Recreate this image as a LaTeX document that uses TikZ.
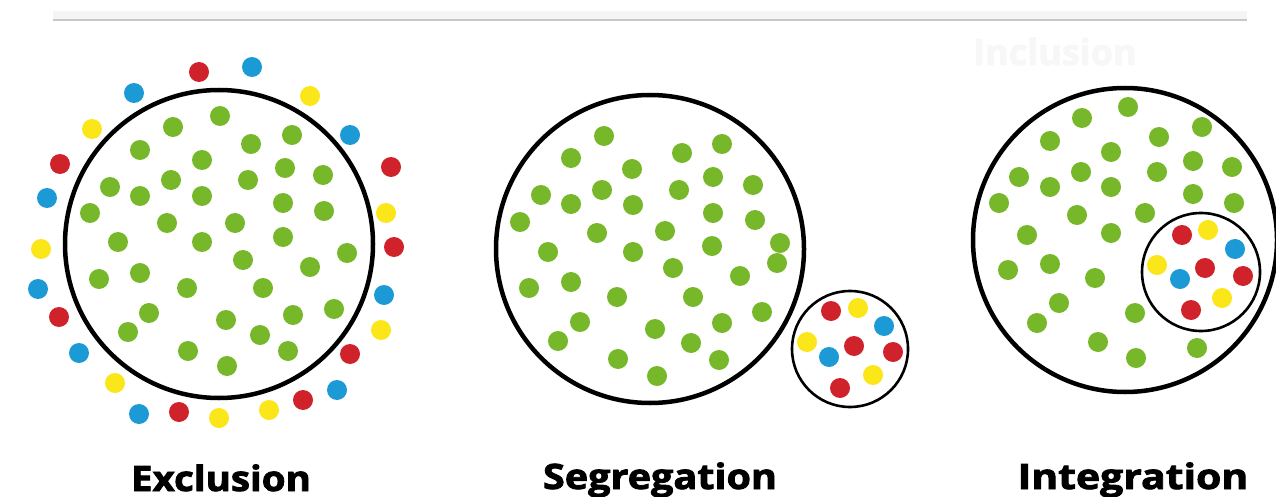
\documentclass[tikz,border=0pt]{standalone}
\usepackage{fontspec}
\setmainfont{Open Sans}
\newfontfamily\lblfont[FakeBold=2.2]{Open Sans Bold}
\begin{document}
\begin{tikzpicture}[x=1pt,y=-1pt,
  ring/.style={draw=black,line width=4.5pt},
  smallring/.style={draw=black,line width=2.6pt},
  label/.style={font=\fontsize{35}{35}\selectfont\lblfont,anchor=base,inner sep=0pt},
  gdot/.style={fill=dotgreen},
  rdot/.style={fill=dotred},
  bdot/.style={fill=dotblue},
  ydot/.style={fill=dotyellow}]
\definecolor{dotgreen}{HTML}{76B82A}
\definecolor{dotred}{HTML}{D0222A}
\definecolor{dotblue}{HTML}{1C9AD6}
\definecolor{dotyellow}{HTML}{FBE619}
\useasboundingbox (0,0) rectangle (1276,497);
\fill[white] (0,0) rectangle (1276,497);
% top rule
\fill[black!4] (53,11) rectangle (1247,19);
\draw[black!22,line width=2pt] (53,20) -- (1247,20);
% faint title
\node[font=\fontsize{36}{36}\selectfont\lblfont,text=black!3,anchor=base west,inner sep=0pt] (incl) at (973,65) {Inclusion};

% ---------- Exclusion ----------
\foreach \x/\y in {220/116,173/127,292/135,251/144,140/150,202/160,285/168,323/175,171/180,248/180,110/187,140/196,202/196,283/203,324/211,90/213,167/223,235/223,283/237,118/242,202/242,347/253,243/260,310/267,140/273,99/279,187/288,263/288,149/313,334/309,293/315,226/320,128/332,260/335,188/351,288/351,227/366}
  \fill[gdot] (\x,\y) circle (10);
\foreach \x/\y in {199/72,60/164,391/167,394/247,59/317,350/354,303/400,179/412}
  \fill[rdot] (\x,\y) circle (10);
\foreach \x/\y in {252/67,134/93,350/135,47/198,38/289,384/295,79/353,337/390,139/414}
  \fill[bdot] (\x,\y) circle (10);
\foreach \x/\y in {310/96,92/129,386/213,41/249,381/330,115/383,269/410,219/418}
  \fill[ydot] (\x,\y) circle (10);
\draw[ring] (219,244) circle (154);

% ---------- Segregation ----------
\foreach \x/\y in {604/136,571/158,682/153,722/144,632/169,713/177,541/195,602/190,679/190,753/185,571/204,633/205,520/222,713/213,755/220,597/233,665/231,548/252,633/252,712/246,780/243,777/263,673/268,740/276,529/288,571/282,617/297,693/297,762/312,580/322,722/323,655/329,558/341,691/343,618/359,719/360,657/376}
  \fill[gdot] (\x,\y) circle (10);
\draw[ring] (650,249) circle (154);
\foreach \x/\y in {831/311,854/346,893/352,840/388}
  \fill[rdot] (\x,\y) circle (10);
\foreach \x/\y in {884/326,829/357}
  \fill[bdot] (\x,\y) circle (10);
\foreach \x/\y in {858/308,807/342,873/375}
  \fill[ydot] (\x,\y) circle (10);
\draw[smallring] (850,349) circle (58);

% ---------- Integration ----------
\foreach \x/\y in {1128/107,1082/118,1202/127,1050/141,1159/137,1111/152,1193/161,1232/167,1019/177,1081/172,1157/172,1050/187,1111/187,1193/194,1234/203,999/203,1077/215,1145/213,1027/235,1111/233,1050/264,1008/270,1095/278,1059/303,1037/323,1135/313,1098/342,1136/358,1197/348}
  \fill[gdot] (\x,\y) circle (10);
\draw[ring] (1125,240) circle (152);
\foreach \x/\y in {1182/235,1205/268,1243/276,1191/310}
  \fill[rdot] (\x,\y) circle (10);
\foreach \x/\y in {1235/249,1180/279}
  \fill[bdot] (\x,\y) circle (10);
\foreach \x/\y in {1208/230,1157/265,1222/298}
  \fill[ydot] (\x,\y) circle (10);
\draw[smallring] (1201,272) circle (59);

% ---------- labels ----------
\node[label] (lexc) at (221,491) {\scalebox{1.1}[1]{Exclusion}};
\node[label] (lseg) at (660,489) {\scalebox{1.13}[1]{Segregation}};
\node[label] (lint) at (1133,489) {\scalebox{1.17}[1]{Integration}};
\end{tikzpicture}
\end{document}
